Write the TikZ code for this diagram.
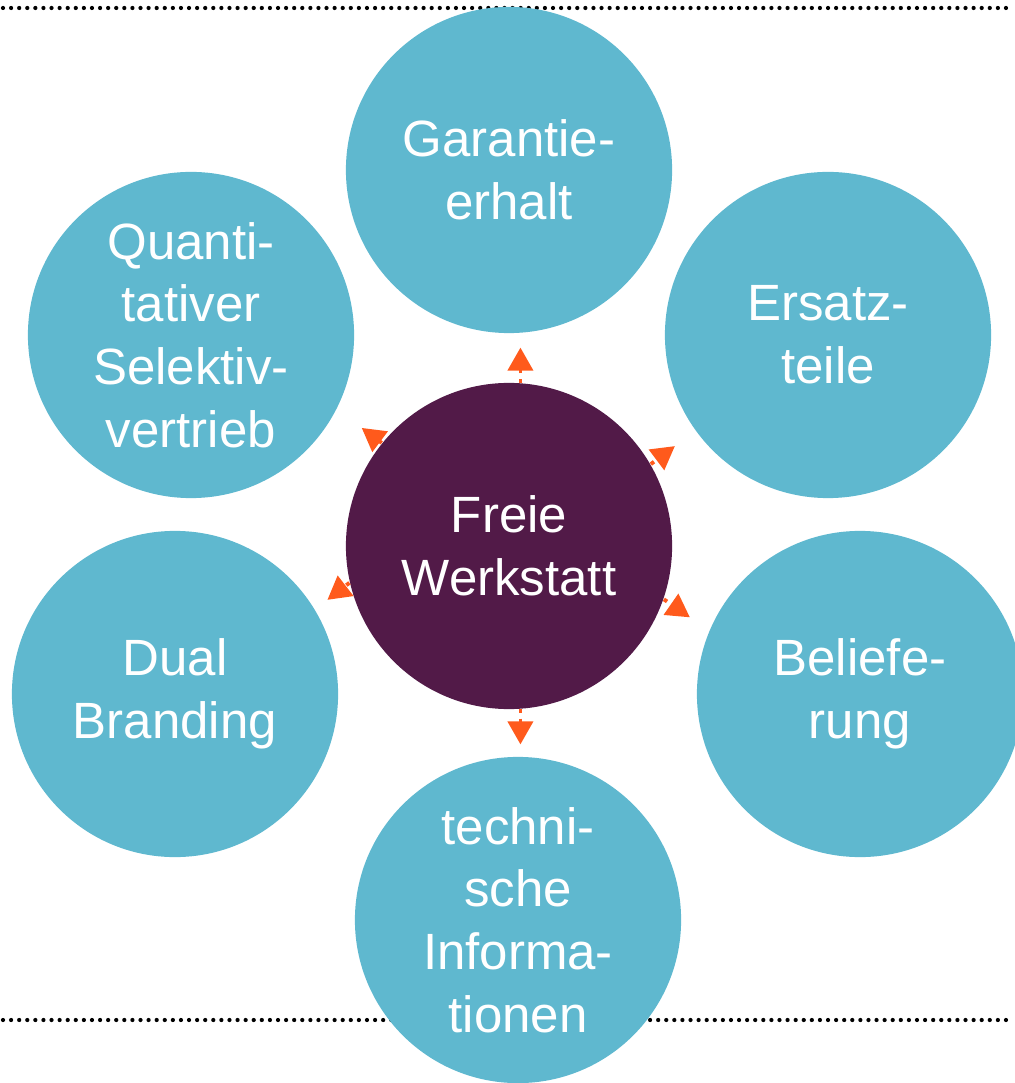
\documentclass[tikz,border=0pt]{standalone}
\usepackage{fontspec}
\setmainfont{Liberation Sans}
\usetikzlibrary{arrows.meta}

\definecolor{tuerkis}{HTML}{5FB8CF}
\definecolor{aubergine}{HTML}{521A48}
\definecolor{signal}{HTML}{FF5A1C}

\begin{document}
\begin{tikzpicture}[
            x = 0.01cm, y = -0.01cm, % pixel grid, y downwards
            font = \fontsize{14.5}{17.8}\selectfont
        ]

        \tikzstyle{thema}=[
            circle,
            fill = tuerkis,
            text = white,
            align = center,
            inner sep = 0pt,
            minimum size = 3.26cm
        ]
        \tikzstyle{mitte}=[thema, fill = aubergine]
        \tikzstyle{pfeil}=[
            signal,
            line width = 1.1pt,
            dash pattern = on 1.1pt off 1.5pt,
            -{Triangle[length=2.3mm, width=2.5mm, sep=0pt]}
        ]
        \tikzstyle{trenner}=[
            line width = 1.2pt,
            line cap = round,
            dash pattern = on 0pt off 2.3pt
        ]

        \useasboundingbox (0,0) rectangle (1014,1083);

        % dotted separators behind the circles
        \draw[trenner] (3,8) -- (1012,8);
        \draw[trenner] (3,1020) -- (1012,1020);

	\node[mitte] (fw) at (509,546) {Freie\\Werkstatt};
	\node[thema] (ga) at (509,170) {Garantie-\\erhalt};
	\node[thema] (et) at (828,335) {Ersatz-\\teile};
	\node[thema] (bl) at (860,694) {Beliefe-\\rung};
	\node[thema] (ti) at (518,920) {techni-\\sche\\Informa-\\tionen};
	\node[thema] (db) at (175,694) {Dual\\Branding};
	\node[thema] (qs) at (191,335) {Quanti-\\tativer\\Selektiv-\\vertrieb};

	\draw[pfeil] (fw.86.8) -- ++(0,-35);
	\draw[pfeil] (fw.30) -- ++(24,-18);
	\draw[pfeil] (fw.-19) -- ++(26,18);
	\draw[pfeil] (fw.-86.8) -- ++(0,35);
	\draw[pfeil] (fw.193.6) -- ++(-22,17);
	\draw[pfeil] (fw.141) -- ++(-20,-15);

    \end{tikzpicture}
\end{document}
